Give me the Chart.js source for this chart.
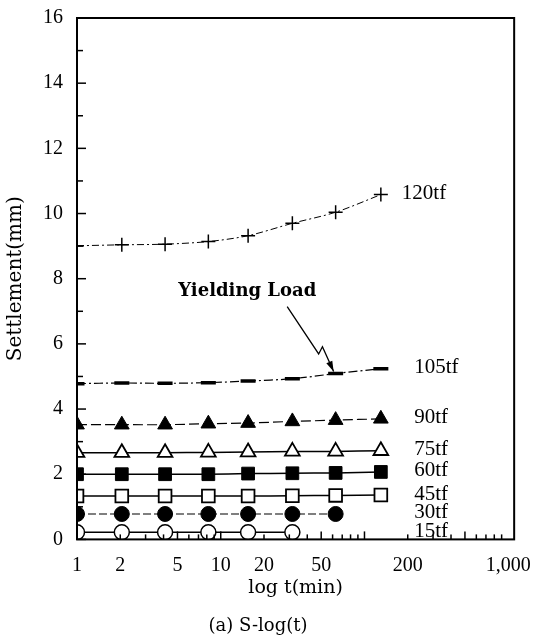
<!DOCTYPE html>
<html>
<head>
<meta charset="utf-8">
<script src="https://cdn.jsdelivr.net/npm/chart.js@4.4.0/dist/chart.umd.min.js"></script>
<style>
  html, body { margin: 0; padding: 0; background: #fff; }
  #wrap { width: 537px; height: 643px; }
</style>
</head>
<body>
<div id="wrap"><canvas id="settleChart"></canvas></div>
<script>
// time steps of each load stage (min), as placed on the figure
const times = [1, 2.05, 4.1, 8.2, 15.5, 31.5, 63, 130];
const loads = ['120tf', '105tf', '90tf', '75tf', '60tf', '45tf', '30tf', '15tf'];

// settlement (mm)
const s120 = [9.01, 9.04, 9.06, 9.14, 9.32, 9.70, 10.04, 10.58];
const s105 = [4.78, 4.80, 4.79, 4.81, 4.86, 4.93, 5.09, 5.24];
const s90 = [3.52, 3.52, 3.52, 3.55, 3.57, 3.62, 3.66, 3.70];
const s75 = [2.66, 2.66, 2.66, 2.67, 2.68, 2.70, 2.70, 2.72];
const s60 = [2.00, 2.00, 2.00, 2.00, 2.02, 2.03, 2.04, 2.07];
const s45 = [1.33, 1.33, 1.33, 1.33, 1.33, 1.34, 1.35, 1.36];
const s30 = [0.78, 0.78, 0.78, 0.78, 0.78, 0.78, 0.78];
const s15 = [0.22, 0.22, 0.22, 0.22, 0.22, 0.22];

const xTickValues = [1, 2, 5, 10, 20, 50, 200, 1000];
const xTickLabels = ['1', '2', '5', '10', '20', '50', '200', '1,000'];

// "Yielding Load" note and its arrow, in data units (t, mm)
const noteText = 'Yielding Load';
const notePos = {x: 15.3, y: 7.6};
const arrowPath = [{x: 29, y: 7.14}, {x: 48, y: 5.69}, {x: 51, y: 5.91}, {x: 61, y: 5.15}];

const serif = "'Liberation Serif', 'Times New Roman', serif";
const wideSerif = "'DejaVu Serif', serif";

function pts(vals) {
    return vals.map((v, i) => ({x: times[i], y: v}));
}

const seriesValues = [s120, s105, s90, s75, s60, s45, s30, s15];
const looks = [
    {style: 'cross', r: 7, bg: '#000', pbw: 1.5, dash: [7, 3, 2, 3], lw: 1},
    {style: 'line', r: 7.5, bg: '#000', pbw: 3.5, dash: [9, 3, 2, 3], lw: 1.2},
    {style: 'triangle', r: 8.5, bg: '#000', pbw: 1, dash: [10, 4], lw: 1.2},
    {style: 'triangle', r: 8.5, bg: '#fff', pbw: 1.8, dash: [], lw: 1.5},
    {style: 'rect', r: 9, bg: '#000', pbw: 1, dash: [], lw: 1.5},
    {style: 'rect', r: 9, bg: '#fff', pbw: 1.8, dash: [], lw: 1.5},
    {style: 'circle', r: 7.5, bg: '#000', pbw: 1, dash: [8, 3], lw: 1.2},
    {style: 'circle', r: 7.5, bg: '#fff', pbw: 1.5, dash: [], lw: 1.5}
];

const datasets = seriesValues.map((vals, i) => ({
    label: loads[i],
    data: pts(vals),
    borderColor: '#000',
    borderWidth: looks[i].lw,
    borderDash: looks[i].dash,
    backgroundColor: looks[i].bg,
    pointStyle: looks[i].style,
    pointRadius: looks[i].r,
    pointBorderWidth: looks[i].pbw,
    pointBackgroundColor: looks[i].bg,
    pointBorderColor: '#000',
    tension: 0.3,
    fill: false
}));

const decorations = {
    id: 'decorations',
    afterDraw(chart) {
        const {ctx, chartArea: a, scales: {x, y}} = chart;
        ctx.save();
        ctx.strokeStyle = '#000';
        ctx.fillStyle = '#000';

        // frame
        ctx.lineWidth = 2;
        ctx.strokeRect(a.left, a.top, a.right - a.left, a.bottom - a.top);

        // inward ticks on the settlement axis
        ctx.lineWidth = 1.5;
        for (let v = 0; v <= 16; v++) {
            const py = y.getPixelForValue(v);
            ctx.beginPath();
            ctx.moveTo(a.left, py);
            ctx.lineTo(a.left + (v % 2 ? 6 : 9), py);
            ctx.stroke();
        }
        // inward ticks on the time axis
        [1, 10, 100].forEach(dec => {
            for (let k = 1; k <= 9; k++) {
                const px = x.getPixelForValue(k * dec);
                ctx.beginPath();
                ctx.moveTo(px, a.bottom);
                ctx.lineTo(px, a.bottom - (k === 1 || k === 5 ? 8 : 5));
                ctx.stroke();
            }
        });

        // load labels at the end of each curve
        ctx.font = '21px ' + serif;
        ctx.textAlign = 'left';
        ctx.textBaseline = 'middle';
        const colX = x.getPixelForValue(222);
        chart.data.datasets.forEach((ds, i) => {
            const last = ds.data[ds.data.length - 1];
            const lx = i === 0 ? x.getPixelForValue(last.x) + 21 : colX;
            ctx.fillText(ds.label, lx, y.getPixelForValue(last.y) - 1);
        });

        // yielding load note
        ctx.font = 'bold 18px ' + wideSerif;
        ctx.textAlign = 'center';
        ctx.fillText(noteText, x.getPixelForValue(notePos.x), y.getPixelForValue(notePos.y));

        const path = arrowPath.map(p => [x.getPixelForValue(p.x), y.getPixelForValue(p.y)]);
        ctx.lineWidth = 1.3;
        ctx.beginPath();
        path.forEach((p, i) => i ? ctx.lineTo(p[0], p[1]) : ctx.moveTo(p[0], p[1]));
        ctx.stroke();
        const [ex, ey] = path[path.length - 1];
        const [bx, by] = path[path.length - 2];
        const ang = Math.atan2(ey - by, ex - bx);
        ctx.beginPath();
        ctx.moveTo(ex, ey);
        ctx.lineTo(ex - 11 * Math.cos(ang - 0.3), ey - 11 * Math.sin(ang - 0.3));
        ctx.lineTo(ex - 11 * Math.cos(ang + 0.3), ey - 11 * Math.sin(ang + 0.3));
        ctx.closePath();
        ctx.fill();
        ctx.restore();
    }
};

const ctx = document.getElementById('settleChart').getContext('2d');
const settleChart = new Chart(ctx, {
    type: 'line',
    data: { datasets: datasets },
    options: {
        responsive: true,
        maintainAspectRatio: false,
        animation: false,
        layout: { padding: { top: 17, right: 21, left: 0, bottom: 0 } },
        plugins: {
            legend: { display: false },
            tooltip: { enabled: false },
            title: {
                display: true,
                position: 'bottom',
                text: '(a) S-log(t)',
                color: '#000',
                font: { family: wideSerif, size: 18, weight: 'normal' },
                padding: { top: 0, bottom: 6 }
            }
        },
        scales: {
            x: {
                type: 'logarithmic',
                min: 1,
                max: 1100,
                afterBuildTicks: s => { s.ticks = xTickValues.map(v => ({value: v})); },
                afterFit: s => { s.height = 76; },
                grid: { display: false },
                border: { display: false },
                ticks: {
                    autoSkip: false,
                    maxRotation: 0,
                    padding: 6,
                    color: '#000',
                    font: { family: serif, size: 20 },
                    callback: v => {
                        const i = xTickValues.indexOf(v);
                        return i >= 0 ? xTickLabels[i] : '';
                    }
                },
                title: {
                    display: true,
                    text: 'log t(min)',
                    color: '#000',
                    font: { family: wideSerif, size: 19 },
                    padding: { top: 0, bottom: 16 }
                }
            },
            y: {
                min: 0,
                max: 16,
                afterFit: s => { s.width = 77; },
                grid: { display: false },
                border: { display: false },
                ticks: {
                    stepSize: 2,
                    padding: 6,
                    color: '#000',
                    font: { family: serif, size: 20 }
                },
                title: {
                    display: true,
                    text: 'Settlement(mm)',
                    color: '#000',
                    font: { family: wideSerif, size: 20 },
                    padding: { top: 4, bottom: 0 }
                }
            }
        }
    },
    plugins: [decorations]
});
</script>
</body>
</html>
